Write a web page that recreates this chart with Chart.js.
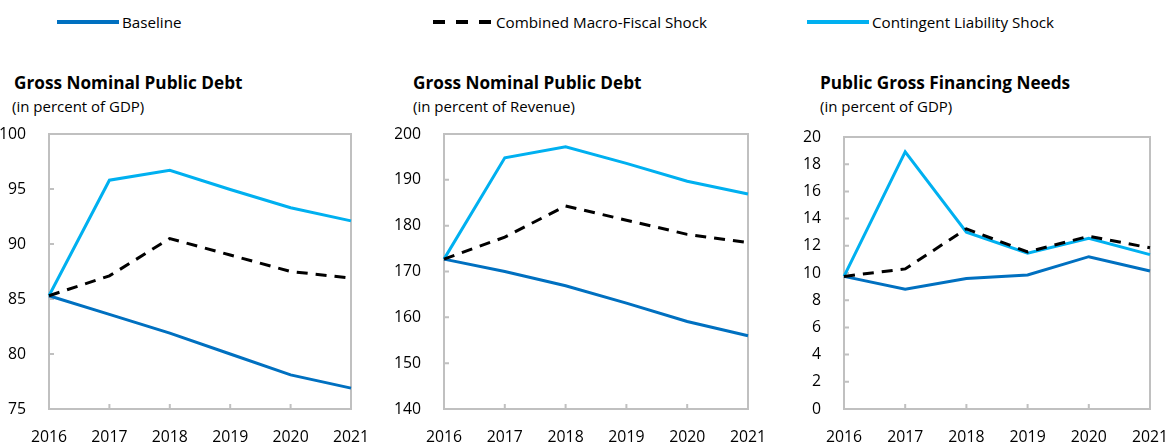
<!DOCTYPE html>
<html>
<head>
<meta charset="utf-8">
<script src="https://cdn.jsdelivr.net/npm/chart.js@4"></script>
<style>
body { margin: 0; width: 1167px; height: 445px; position: relative; background: #fff; overflow: hidden; font-family: "Open Sans", sans-serif; color: #000; }
.leg { position: absolute; top: 12px; font-size: 15.2px; line-height: 20px; white-space: nowrap; }
.swatch { position: absolute; top: 20px; height: 4px; }
.title { position: absolute; top: 73px; font-size: 17.2px; font-weight: bold; line-height: 20px; white-space: nowrap; }
.sub { position: absolute; top: 96px; font-size: 15px; line-height: 20px; white-space: nowrap; }
.panel { position: absolute; top: 120px; height: 325px; }
canvas { display: block; }
</style>
</head>
<body>
<div class="swatch" style="left:57px;width:62px;background:#0070c0"></div>
<div class="leg" style="left:122px">Baseline</div>
<div class="swatch" style="left:433px;width:60px;background:repeating-linear-gradient(to right,#000 0 12px,transparent 12px 23px)"></div>
<div class="leg" style="left:496px">Combined Macro-Fiscal Shock</div>
<div class="swatch" style="left:807px;width:62px;background:#00b0f0"></div>
<div class="leg" style="left:872px">Contingent Liability Shock</div>

<div class="title" style="left:14px">Gross Nominal Public Debt</div>
<div class="sub" style="left:12px">(in percent of GDP)</div>
<div class="title" style="left:413px">Gross Nominal Public Debt</div>
<div class="sub" style="left:413px">(in percent of Revenue)</div>
<div class="title" style="left:820px">Public Gross Financing Needs</div>
<div class="sub" style="left:820px">(in percent of GDP)</div>

<div class="panel" style="left:0px;width:370px"><canvas id="c1" width="370" height="325"></canvas></div>
<div class="panel" style="left:395px;width:385px"><canvas id="c2" width="385" height="325"></canvas></div>
<div class="panel" style="left:790px;width:377px"><canvas id="c3" width="377" height="325"></canvas></div>

<script>
const years = ['2016', '2017', '2018', '2019', '2020', '2021'];

// Gross nominal public debt, percent of GDP
const debtGdpBaseline = [85.3, 83.6, 81.9, 80.0, 78.1, 76.9];
const debtGdpCombined = [85.3, 87.1, 90.5, 89.0, 87.5, 86.9];
const debtGdpContingent = [85.3, 95.8, 96.7, 94.95, 93.3, 92.1];

// Gross nominal public debt, percent of revenue
const debtRevBaseline = [172.7, 170.0, 166.9, 163.1, 159.1, 156.0];
const debtRevCombined = [172.7, 177.5, 184.3, 181.2, 178.1, 176.3];
const debtRevContingent = [172.7, 194.8, 197.2, 193.6, 189.7, 186.9];

// Public gross financing needs, percent of GDP
const gfnBaseline = [9.75, 8.8, 9.6, 9.85, 11.2, 10.15];
const gfnCombined = [9.75, 10.3, 13.25, 11.55, 12.7, 11.85];
const gfnContingent = [9.75, 18.9, 13.0, 11.45, 12.55, 11.35];

Chart.defaults.font.family = "'Open Sans', sans-serif";
Chart.defaults.color = '#000';

// grey box round the plot plus small inward ticks
const frame = {
    id: 'frame',
    beforeDatasetsDraw(chart) {
        const ctx = chart.ctx;
        const a = chart.chartArea;
        const x = chart.scales.x, y = chart.scales.y;
        ctx.save();
        ctx.strokeStyle = '#c0c0c0';
        ctx.lineWidth = 2;
        ctx.strokeRect(a.left, a.top, a.right - a.left, a.bottom - a.top);
        ctx.beginPath();
        x.ticks.forEach((t, i) => {
            const px = x.getPixelForTick(i);
            ctx.moveTo(px, a.bottom);
            ctx.lineTo(px, a.bottom - 5);
        });
        y.ticks.forEach((t, i) => {
            const py = y.getPixelForTick(i);
            ctx.moveTo(a.left, py);
            ctx.lineTo(a.left + 5, py);
        });
        ctx.stroke();
        ctx.restore();
    }
};

function makeChart(id, baseline, combined, contingent, min, max, step, pad, yWidth) {
    const ctx = document.getElementById(id).getContext('2d');
    return new Chart(ctx, {
        type: 'line',
        data: {
            labels: years,
            datasets: [{
                label: 'Baseline',
                data: baseline,
                borderColor: '#0070c0',
                borderWidth: 3,
                order: 2
            }, {
                label: 'Combined Macro-Fiscal Shock',
                data: combined,
                borderColor: '#000000',
                borderWidth: 3,
                borderDash: [11, 8],
                order: 1
            }, {
                label: 'Contingent Liability Shock',
                data: contingent,
                borderColor: '#00b0f0',
                borderWidth: 3,
                order: 3
            }]
        },
        options: {
            responsive: false,
            animation: false,
            layout: { padding: pad, autoPadding: false },
            elements: { point: { radius: 0 }, line: { tension: 0 } },
            plugins: { legend: { display: false }, tooltip: { enabled: false } },
            scales: {
                x: {
                    grid: { display: false },
                    border: { display: false },
                    ticks: { font: { size: 15.8 }, padding: 11, maxRotation: 0, autoSkip: false },
                    afterFit: s => {
                        s.height = 36;
                        s.paddingLeft = 0; s.paddingRight = 0;
                    }
                },
                y: {
                    min: min,
                    max: max,
                    grid: { display: false },
                    border: { display: false },
                    ticks: { stepSize: step, font: { size: 15.8 }, padding: 15 },
                    afterFit: s => {
                        s.width = yWidth;
                        s.paddingTop = 0; s.paddingBottom = 0;
                    }
                }
            }
        },
        plugins: [frame]
    });
}

makeChart('c1', debtGdpBaseline, debtGdpCombined, debtGdpContingent, 75, 100, 5,
    { top: 14, right: 19, left: 0, bottom: 0 }, 49);
makeChart('c2', debtRevBaseline, debtRevCombined, debtRevContingent, 140, 200, 10,
    { top: 14, right: 32, left: 0, bottom: 0 }, 49);
makeChart('c3', gfnBaseline, gfnCombined, gfnContingent, 0, 20, 2,
    { top: 17, right: 17, left: 0, bottom: 0 }, 54);
</script>
</body>
</html>
